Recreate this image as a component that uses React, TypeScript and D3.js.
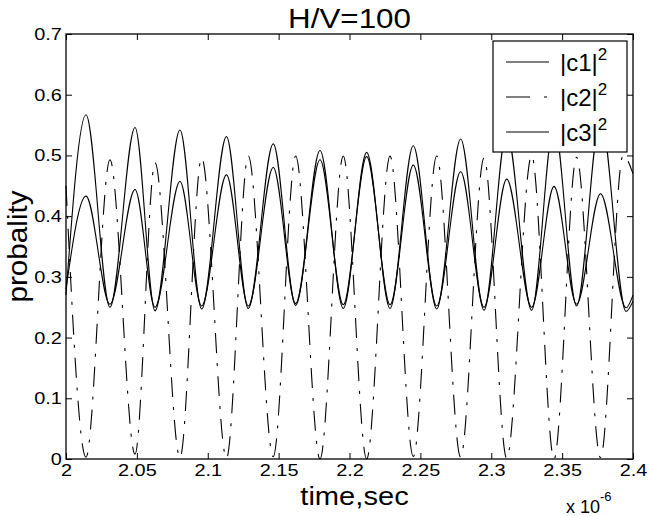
import React, { useEffect, useRef } from "react";
import * as d3 from "d3";

const W = 649;
const H = 516;
const M = { left: 66, top: 34, right: 16, bottom: 57 };

// axis ticks (time in units of 1e-6 s)
const xTicks = [2, 2.05, 2.1, 2.15, 2.2, 2.25, 2.3, 2.35, 2.4];
const xTickLabels = ["2", "2.05", "2.1", "2.15", "2.2", "2.25", "2.3", "2.35", "2.4"];
const yTicks = [0, 0.1, 0.2, 0.3, 0.4, 0.5, 0.6, 0.7];
const yTickLabels = ["0", "0.1", "0.2", "0.3", "0.4", "0.5", "0.6", "0.7"];

const legendNames = ["|c1|", "|c2|", "|c3|"];

// extrema: [time, probability]
const c1Points: [number, number][] = [
  [2.0, 0.27], [2.0141, 0.567], [2.031, 0.25], [2.0487, 0.546], [2.0628, 0.244],
  [2.0804, 0.542], [2.0957, 0.247], [2.1132, 0.531], [2.1286, 0.248], [2.1462, 0.519],
  [2.162, 0.253], [2.1792, 0.508], [2.1956, 0.248], [2.2121, 0.505], [2.2286, 0.248],
  [2.245, 0.516], [2.2615, 0.247], [2.2784, 0.527], [2.2949, 0.245], [2.3109, 0.539],
  [2.3285, 0.245], [2.3443, 0.551], [2.3602, 0.252], [2.3771, 0.563], [2.3951, 0.243],
  [2.4, 0.26],
];

const c2Points: [number, number][] = [
  [2.0, 0.45], [2.0141, 0.003], [2.031, 0.493], [2.0487, 0.008], [2.0628, 0.488],
  [2.0804, 0.002], [2.0957, 0.496], [2.1132, 0.001], [2.1286, 0.499], [2.1462, 0.004],
  [2.162, 0.499], [2.1792, 0.0], [2.1956, 0.499], [2.2121, 0.0], [2.2286, 0.499],
  [2.245, 0.004], [2.2615, 0.499], [2.2784, 0.003], [2.2949, 0.496], [2.3109, 0.001],
  [2.3285, 0.5], [2.3443, 0.0], [2.3602, 0.497], [2.3771, 0.002], [2.393, 0.5],
  [2.4, 0.47],
];

const c3Points: [number, number][] = [
  [2.0, 0.28], [2.0141, 0.433], [2.031, 0.255], [2.0487, 0.444], [2.0628, 0.25],
  [2.0804, 0.457], [2.0957, 0.252], [2.1132, 0.468], [2.1286, 0.252], [2.1462, 0.48],
  [2.162, 0.256], [2.1792, 0.493], [2.1956, 0.254], [2.2121, 0.498], [2.2286, 0.254],
  [2.245, 0.484], [2.2615, 0.252], [2.2784, 0.473], [2.2949, 0.25], [2.3109, 0.461],
  [2.3285, 0.25], [2.3443, 0.449], [2.3602, 0.255], [2.3771, 0.437], [2.3951, 0.249],
  [2.4, 0.27],
];

const FONT = '"Liberation Sans", Arial, Helvetica, sans-serif';
const DASHDOT = "20,10,3,10";
// the original text is a little wider than Liberation Sans
const STRETCH = 1.17;

const App = () => {
  const ref = useRef<SVGSVGElement>(null);

  useEffect(() => {
    const svg = d3.select(ref.current);
    svg.selectAll("*").remove();

    const x = d3.scaleLinear().domain([2, 2.4]).range([M.left, W - M.right]);
    const y = d3.scaleLinear().domain([0, 0.7]).range([H - M.bottom, M.top]);

    svg.append("rect").attr("width", W).attr("height", H).attr("fill", "white");

    const line = d3
      .line<[number, number]>()
      .x((d) => x(d[0]))
      .y((d) => y(d[1]))
      .curve(d3.curveMonotoneX);

    const plot = svg.append("g");
    plot.append("path").attr("d", line(c3Points)).attr("fill", "none").attr("stroke", "black").attr("stroke-width", 1.1);
    plot.append("path").attr("d", line(c1Points)).attr("fill", "none").attr("stroke", "black").attr("stroke-width", 1.1);
    plot.append("path").attr("d", line(c2Points)).attr("fill", "none").attr("stroke", "black").attr("stroke-width", 1.1)
      .attr("stroke-dasharray", DASHDOT);

    // axes, ticks pointing inward on all four sides
    const styleAxis = (g: d3.Selection<SVGGElement, unknown, null, undefined>) => {
      g.select(".domain").remove();
      g.selectAll("line").attr("stroke", "black").attr("stroke-width", 1);
      g.selectAll("text")
        .attr("font-family", FONT)
        .attr("font-size", 17)
        .attr("fill", "black")
        .attr("transform", `scale(${STRETCH},1)`);
    };

    svg.append("g")
      .attr("transform", `translate(0,${H - M.bottom})`)
      .call(d3.axisBottom(x).tickValues(xTicks).tickSize(-6).tickPadding(5).tickFormat((_, i) => xTickLabels[i]))
      .call(styleAxis);
    svg.append("g")
      .attr("transform", `translate(0,${M.top})`)
      .call(d3.axisTop(x).tickValues(xTicks).tickSize(-6).tickFormat(() => ""))
      .call(styleAxis);
    svg.append("g")
      .attr("transform", `translate(${M.left},0)`)
      .call(d3.axisLeft(y).tickValues(yTicks).tickSize(-6).tickPadding(3.6).tickFormat((_, i) => yTickLabels[i]))
      .call(styleAxis);
    svg.append("g")
      .attr("transform", `translate(${W - M.right},0)`)
      .call(d3.axisRight(y).tickValues(yTicks).tickSize(-6).tickFormat(() => ""))
      .call(styleAxis);

    // box
    svg.append("rect")
      .attr("x", M.left).attr("y", M.top)
      .attr("width", W - M.left - M.right).attr("height", H - M.top - M.bottom)
      .attr("fill", "none").attr("stroke", "black").attr("stroke-width", 1.3);

    // titles
    const cx = (M.left + W - M.right) / 2;
    svg.append("text").attr("transform", `translate(${cx},28) scale(1.12,1)`).attr("text-anchor", "middle")
      .attr("font-family", FONT).attr("font-size", 28).text("H/V=100");
    svg.append("text").attr("transform", `translate(${cx + 5},505) scale(1.12,1)`).attr("text-anchor", "middle")
      .attr("font-family", FONT).attr("font-size", 26).text("time,sec");
    svg.append("text").attr("transform", `translate(27,${(M.top + H - M.bottom) / 2}) rotate(-90) scale(1.06,1)`)
      .attr("text-anchor", "middle").attr("font-family", FONT).attr("font-size", 28).text("probality");
    const mult = svg.append("text").attr("x", 566).attr("y", 513).attr("font-family", FONT).attr("font-size", 18);
    mult.append("tspan").text("x 10");
    mult.append("tspan").attr("dy", -12).attr("font-size", 13).text("-6");

    // legend
    const lg = svg.append("g");
    lg.append("rect").attr("x", 493).attr("y", 41).attr("width", 134).attr("height", 111)
      .attr("fill", "white").attr("stroke", "black").attr("stroke-width", 1.2);
    const rows = [62, 97, 132];
    legendNames.forEach((name, i) => {
      lg.append("line").attr("x1", 506).attr("x2", 549).attr("y1", rows[i]).attr("y2", rows[i])
        .attr("stroke", "black").attr("stroke-width", 1.1)
        .attr("stroke-dasharray", i === 1 ? "24,14,3,14" : null);
      const t = lg.append("text").attr("x", 560).attr("y", rows[i] + 9)
        .attr("font-family", FONT).attr("font-size", 24);
      t.append("tspan").text(name);
      t.append("tspan").attr("dy", -11).attr("font-size", 17).text("2");
    });
  }, []);

  return <svg ref={ref} width={W} height={H} style={{ position: "absolute", left: 0, top: 0 }} />;
};

export default App;
